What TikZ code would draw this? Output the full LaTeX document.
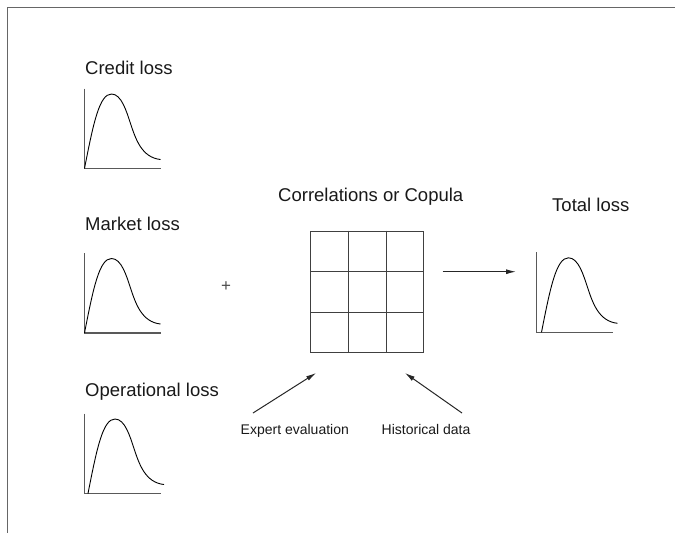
\documentclass[tikz,border=0pt]{standalone}
\usepackage{fontspec}
\setmainfont{Liberation Sans}
\usetikzlibrary{calc,arrows.meta}

\begin{document}
\begin{tikzpicture}[x=1pt,y=-1pt,
    title/.style={font=\fontsize{18.5}{22}\selectfont,text=black!90,inner sep=0pt,anchor=base west},
    smalltext/.style={font=\fontsize{14}{16}\selectfont,text=black!90,inner sep=0pt,anchor=base west},
    axis/.style={draw=black!65,line width=1.3pt},
    curve/.style={draw=black,line width=0.9pt},
    gridline/.style={draw=black!75,line width=1.1pt},
    arrow/.style={draw=black!85,line width=1pt,-{Latex[length=10pt,width=5pt]}}]
    \useasboundingbox (0,0) rectangle (675,533);
    \draw[black!60,line width=1.5pt] (675,7.5) -- (7.5,7.5) -- (7.5,533);
    % loss charts
    \coordinate (C) at (84.5,168.5);
    \coordinate (M) at (84.5,333);
    \coordinate (O) at (84.5,493.5);
    \coordinate (T) at (536.5,332.3);
    \foreach \n/\s in {C/0,M/0,O/3.5,T/5} {
        \draw[axis] (\n) ++(0,-80) -- (\n) -- ++(76,0);
        \begin{scope}[shift={(\n)}]
            \draw[curve] (\s,0) .. controls (\s+9,-46) and (\s+15,-74.5) .. (\s+27,-74.5)
                .. controls (\s+37,-74.5) and (\s+42,-57) .. (\s+46,-45)
                .. controls (\s+51,-30) and (\s+57,-11) .. (\s+76,-9);
        \end{scope}
    }
    \node[title] (credit) at (85,74) {Credit loss};
    \node[title] (market) at (85,230.5) {Market loss};
    \node[title] (oper) at (85,396.5) {Operational loss};
    \node[title] (total) at (552,211.5) {Total loss};
    \node[title] (corr) at (278,201.5) {Correlations or Copula};
    \node[font=\fontsize{17}{20}\selectfont,text=black!70,inner sep=0pt] (plus) at (226,287) {+};
    % copula grid
    \node[draw=black!75,line width=1.1pt,minimum width=113pt,minimum height=121pt,inner sep=0pt] (grid) at (367.2,291.7) {};
    \foreach \i in {1,2} {
        \draw[gridline] ($(grid.north west)!\i/3!(grid.north east)$) -- ($(grid.south west)!\i/3!(grid.south east)$);
        \draw[gridline] ($(grid.north west)!\i/3!(grid.south west)$) -- ($(grid.north east)!\i/3!(grid.south east)$);
    }
    % inputs and output
    \node[smalltext] (expert) at (240.5,434) {Expert evaluation};
    \node[smalltext] (hist) at (381.5,434) {Historical data};
    \coordinate (ex1) at (253,413);
    \coordinate (ex2) at (316,373);
    \coordinate (hi1) at (462,413);
    \coordinate (hi2) at (405,373);
    \coordinate (out1) at (442.7,271.7);
    \coordinate (out2) at (516,271.7);
    \draw[arrow] (ex1) -- (ex2);
    \draw[arrow] (hi1) -- (hi2);
    \draw[arrow] (out1) -- (out2);
\end{tikzpicture}
\end{document}
